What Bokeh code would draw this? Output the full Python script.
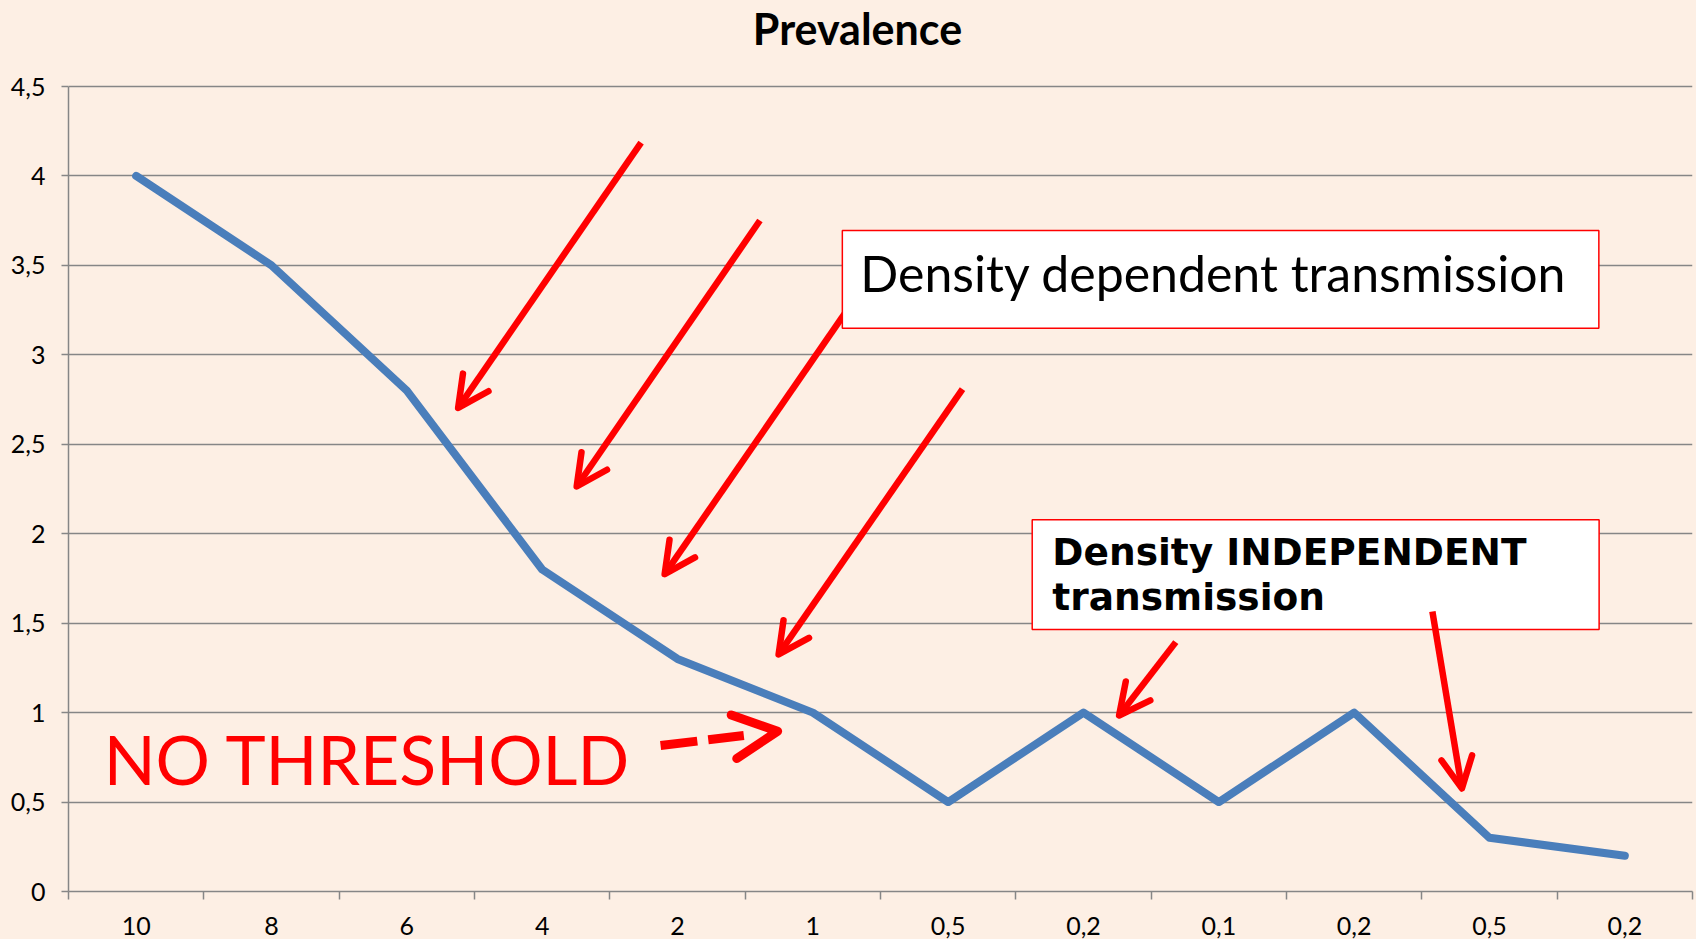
from bokeh.plotting import figure
from bokeh.models import (ColumnDataSource, FixedTicker, Range1d, Arrow, OpenHead,
                          BoxAnnotation, Label)
from bokeh.embed import file_html
from bokeh.resources import INLINE

# ---------------- data ----------------
chart_title = "Prevalence"
categories = ["10", "8", "6", "4", "2", "1", "0,5", "0,2", "0,1", "0,2", "0,5", "0,2"]
prevalence = [4.0, 3.5, 2.8, 1.8, 1.3, 1.0, 0.5, 1.0, 0.5, 1.0, 0.3, 0.2]
y_ticks = [0, 0.5, 1, 1.5, 2, 2.5, 3, 3.5, 4, 4.5]
y_tick_labels = ["0", "0,5", "1", "1,5", "2", "2,5", "3", "3,5", "4", "4,5"]

box1_text = "Density dependent transmission"
box2_lines = ["Density INDEPENDENT", "transmission"]
no_threshold_text = "NO THRESHOLD"

# ---------------- styles / layout ----------------
BG = "#FDEFE4"
GRID = "#868686"
BLUE = "#4A7EBB"
RED = "#FF0000"

FIG_W, FIG_H = 1696, 939
BORDER_BOTTOM = 48
TITLE_STRIP = 86          # px of frame kept above the top gridline for the title

n = len(categories)
x_centers = [i + 0.5 for i in range(n)]
src = ColumnDataSource(dict(x=x_centers, y=prevalence, cat=categories))

Y_MAX = y_ticks[-1]
frame_h = FIG_H - BORDER_BOTTOM
Y_TOP = Y_MAX * frame_h / (frame_h - TITLE_STRIP)

p = figure(width=FIG_W, height=FIG_H,
           x_range=Range1d(0, n), y_range=Range1d(0, Y_TOP),
           output_backend="svg", toolbar_location=None,
           min_border_left=68, min_border_right=4,
           min_border_top=0, min_border_bottom=BORDER_BOTTOM,
           background_fill_color=BG, border_fill_color=BG,
           outline_line_color=None)
p.title.visible = False

# axes
xax = p.xaxis[0]
xax.ticker = FixedTicker(ticks=x_centers, minor_ticks=list(range(n + 1)))
xax.major_label_overrides = {x: c for x, c in zip(x_centers, categories)}
xax.major_tick_out = 0
xax.major_tick_in = 0
xax.minor_tick_out = 8
xax.minor_tick_in = 0
xax.minor_tick_line_color = GRID
xax.minor_tick_line_width = 1.5
xax.axis_line_color = GRID
xax.axis_line_width = 1.5
xax.major_label_standoff = 17
xax.major_label_text_font = "Lato"
xax.major_label_text_font_size = "25px"
xax.major_label_text_color = "#000000"

yax = p.yaxis[0]
yax.bounds = (0, Y_MAX)
yax.ticker = FixedTicker(ticks=y_ticks, minor_ticks=[])
yax.major_label_overrides = {t: l for t, l in zip(y_ticks, y_tick_labels)}
yax.major_tick_out = 7
yax.major_tick_in = 0
yax.major_tick_line_color = GRID
yax.major_tick_line_width = 1.5
yax.minor_tick_out = 0
yax.minor_tick_in = 0
yax.axis_line_color = GRID
yax.axis_line_width = 1.5
yax.major_label_standoff = 16
yax.major_label_text_font = "Lato"
yax.major_label_text_font_size = "25px"
yax.major_label_text_color = "#000000"

p.xgrid.visible = False
p.ygrid.ticker = FixedTicker(ticks=y_ticks)
p.ygrid.grid_line_color = GRID
p.ygrid.grid_line_width = 1.5

# series
p.line("x", "y", source=src, line_color=BLUE, line_width=8,
       line_join="round", line_cap="round")

# ---------------- annotations ----------------
def head(size, width):
    return OpenHead(size=size, line_color=RED, line_width=width, line_cap="round",
                    line_join="round")

solid_arrows = [  # (x_start, y_start, x_end, y_end) in data units
    (4.231, 4.186, 2.879, 2.703),
    (5.109, 3.751, 3.755, 2.264),
    (5.758, 3.255, 4.405, 1.774),
    (6.606, 2.808, 5.247, 1.325),
    (8.182, 1.394, 7.763, 0.984),
]
for xs, ys, xe, ye in solid_arrows:
    p.add_layout(Arrow(x_start=xs, y_start=ys, x_end=xe, y_end=ye,
                       line_color=RED, line_width=6.5, end=head(31, 6.5)))

# dashed "no threshold" arrow: dashed shaft + head
p.add_layout(Arrow(x_start=4.375, y_start=0.816, x_end=4.99, y_end=0.872,
                   line_color=RED, line_width=9, line_dash="37 11", end=None))
p.add_layout(Arrow(x_start=4.99, y_start=0.872, x_end=5.24, y_end=0.896,
                   line_alpha=0, line_width=9, end=head(44, 9)))

# boxes
p.add_layout(BoxAnnotation(left=5.718, right=11.308, bottom=3.149, top=3.695,
                           fill_color="white", fill_alpha=1,
                           line_color=RED, line_width=1.5, line_alpha=1))
p.add_layout(BoxAnnotation(left=7.121, right=11.310, bottom=1.464, top=2.078,
                           fill_color="white", fill_alpha=1,
                           line_color=RED, line_width=1.5, line_alpha=1))

p.add_layout(Label(x=5.851, y=3.46, text=box1_text, text_font="Lato",
                   text_font_size="50px", text_color="#000000",
                   text_align="left", text_baseline="alphabetic"))
for txt, yy in zip(box2_lines, [1.897, 1.646]):
    p.add_layout(Label(x=7.27, y=yy, text=txt, text_font="DejaVu Sans",
                       text_font_style="bold", text_font_size="37.5px",
                       text_color="#000000", text_align="left",
                       text_baseline="alphabetic"))

p.add_layout(Label(x=0.26, y=0.745, text=no_threshold_text, text_font="Lato",
                   text_font_size="68px", text_color=RED,
                   text_align="left", text_baseline="alphabetic"))

# arrow drawn over the second box
p.add_layout(Arrow(x_start=10.078, y_start=1.565, x_end=10.296, y_end=0.576,
                   line_color=RED, line_width=6.5, end=head(31, 6.5)))

# chart title (inside the frame's top strip)
p.add_layout(Label(x=5.83, y=4.822, text=chart_title, text_font="Lato",
                   text_font_style="bold", text_font_size="43px",
                   text_color="#000000", text_align="center",
                   text_baseline="alphabetic"))

template = """
{% block preamble %}
<style>html, body { margin: 0; padding: 0; overflow: hidden; background-color: #FDEFE4; }</style>
{% endblock %}
"""
open("out.html", "w").write(file_html(p, INLINE, title=chart_title, template=template))
